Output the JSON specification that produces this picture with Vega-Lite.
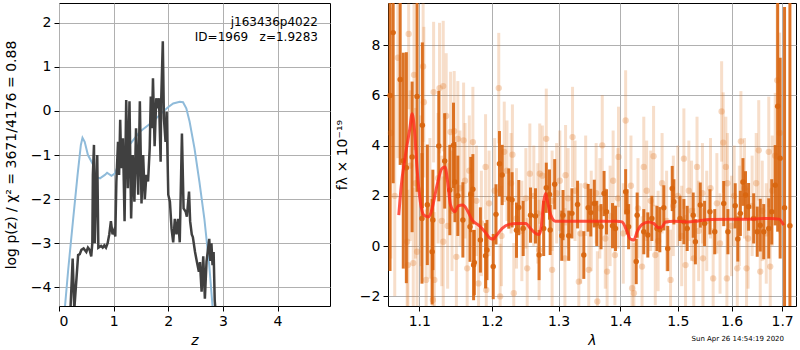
{
"$schema": "https://vega.github.io/schema/vega-lite/v6.json",
"padding": {"left": 3, "top": 1, "right": 0, "bottom": 0},
"bounds": "flush",
"spacing": 58,
"datasets": {
"blue": [{"z":0.11,"p":-4.43},{"z":0.17,"p":-3.58},{"z":0.26,"p":-2.44},{"z":0.34,"p":-1.45},{"z":0.40,"p":-0.77},{"z":0.43,"p":-0.61},{"z":0.47,"p":-0.70},{"z":0.53,"p":-1.0},{"z":0.63,"p":-1.23},{"z":0.67,"p":-1.49},{"z":0.75,"p":-1.53},{"z":0.84,"p":-1.45},{"z":0.88,"p":-1.40},{"z":0.96,"p":-1.47},{"z":1.02,"p":-1.42},{"z":1.11,"p":-1.15},{"z":1.29,"p":-0.77},{"z":1.48,"p":-0.47},{"z":1.72,"p":-0.24},{"z":1.90,"p":-0.02},{"z":1.99,"p":0.08},{"z":2.09,"p":0.17},{"z":2.21,"p":0.21},{"z":2.27,"p":0.20},{"z":2.33,"p":0.06},{"z":2.39,"p":-0.24},{"z":2.48,"p":-0.85},{"z":2.57,"p":-1.61},{"z":2.66,"p":-2.44},{"z":2.75,"p":-3.5},{"z":2.81,"p":-4.43}],
"black": [{"z":0.21,"p":-4.5},{"z":0.25,"p":-3.35},{"z":0.28,"p":-4.5},{"z":0.32,"p":-3.8},{"z":0.35,"p":-3.27},{"z":0.38,"p":-3.25},{"z":0.41,"p":-3.15},{"z":0.45,"p":-3.12},{"z":0.5,"p":-3.2},{"z":0.53,"p":-3.1},{"z":0.56,"p":-3.15},{"z":0.59,"p":-3.3},{"z":0.61,"p":-3.0},{"z":0.62,"p":-1.45},{"z":0.64,"p":-0.77},{"z":0.655,"p":-3.0},{"z":0.67,"p":-2.25},{"z":0.70,"p":-1.0},{"z":0.72,"p":-3.1},{"z":0.77,"p":-3.06},{"z":0.8,"p":-3.1},{"z":0.83,"p":-3.05},{"z":0.86,"p":-3.1},{"z":0.89,"p":-3.0},{"z":0.92,"p":-2.8},{"z":0.95,"p":-2.5},{"z":0.98,"p":-2.8},{"z":1.01,"p":-2.7},{"z":1.03,"p":-2.85},{"z":1.05,"p":-1.6},{"z":1.08,"p":-0.7},{"z":1.10,"p":-1.45},{"z":1.12,"p":-0.2},{"z":1.14,"p":-1.3},{"z":1.17,"p":-0.62},{"z":1.20,"p":-2.5},{"z":1.23,"p":0.25},{"z":1.26,"p":-1.75},{"z":1.29,"p":0.22},{"z":1.32,"p":-2.44},{"z":1.35,"p":-1.0},{"z":1.38,"p":-2.06},{"z":1.41,"p":-0.39},{"z":1.45,"p":-1.9},{"z":1.48,"p":0.22},{"z":1.51,"p":-2.1},{"z":1.54,"p":-1.0},{"z":1.57,"p":-2.0},{"z":1.60,"p":-1.45},{"z":1.63,"p":-1.6},{"z":1.66,"p":-0.85},{"z":1.68,"p":0.33},{"z":1.70,"p":-0.39},{"z":1.72,"p":0.74},{"z":1.75,"p":-0.8},{"z":1.78,"p":0.29},{"z":1.81,"p":0.06},{"z":1.83,"p":0.29},{"z":1.86,"p":-1.15},{"z":1.87,"p":0.22},{"z":1.90,"p":1.58},{"z":1.92,"p":-0.17},{"z":1.95,"p":-0.70},{"z":1.97,"p":-0.02},{"z":2.0,"p":-1.9},{"z":2.03,"p":-2.06},{"z":2.06,"p":-2.67},{"z":2.09,"p":-2.98},{"z":2.12,"p":-2.45},{"z":2.15,"p":-2.8},{"z":2.18,"p":-2.45},{"z":2.21,"p":-2.98},{"z":2.25,"p":-0.51},{"z":2.28,"p":-2.21},{"z":2.32,"p":-2.29},{"z":2.34,"p":-2.4},{"z":2.38,"p":-1.83},{"z":2.40,"p":-2.5},{"z":2.43,"p":-2.8},{"z":2.45,"p":-2.86},{"z":2.49,"p":-3.2},{"z":2.52,"p":-3.4},{"z":2.56,"p":-3.65},{"z":2.58,"p":-3.43},{"z":2.61,"p":-4.1},{"z":2.64,"p":-3.3},{"z":2.67,"p":-4.26},{"z":2.70,"p":-3.42},{"z":2.75,"p":-2.9},{"z":2.77,"p":-3.4},{"z":2.79,"p":-3.0},{"z":2.81,"p":-3.5},{"z":2.83,"p":-3.2},{"z":2.85,"p":-4.3},{"z":2.87,"p":-4.6}],
"ann": [{"z":4.74,"p":2.02,"t":"j163436p4022"},{"z":4.74,"p":1.68,"t":"ID=1969\u00a0\u00a0\u00a0z=1.9283"}],
"light": [[1.063,4.5,5],[1.068,2.0,4],[1.072,7.5,4],[1.086,8.45,3],[1.093,6.82,3],[1.105,7.15,3],[1.106,5.73,3],[1.119,6.13,2.8],[1.127,6.29,2.6],[1.132,6.37,2.6],[1.136,5.18,2.5],[1.142,4.54,2.4],[1.147,4.57,2.4],[1.152,4.27,2.3],[1.16,4.21,2.3],[1.173,4.14,2.2],[1.191,3.15,2.1],[1.21,6.29,2.2],[1.218,3.75,2],[1.23,3.64,2],[1.256,2.88,2],[1.271,2.88,2],[1.281,4.27,2],[1.311,2.82,2],[1.322,4.34,2],[1.37,4.01,2],[1.397,3.55,2],[1.409,5.0,2],[1.44,3.15,2],[1.457,3.58,2],[1.511,3.48,2],[1.535,3.15,2],[1.581,5.36,2],[1.584,4.12,2],[1.589,3.15,2],[1.618,4.17,2],[1.653,3.81,2],[1.673,3.75,2.2],[1.69,6.6,3],[1.084,0.17,3],[1.085,-0.76,3],[1.092,-0.68,3],[1.097,-0.23,3],[1.109,-1.35,2.8],[1.118,-2.15,2.8],[1.12,-1.35,2.7],[1.132,0.17,2.6],[1.15,-0.43,2.4],[1.165,-0.89,2.3],[1.181,-1.49,2.2],[1.192,-1.75,2.2],[1.212,-2.01,2.1],[1.232,-1.88,2],[1.252,-0.89,2],[1.27,-0.16,2],[1.29,-0.95,2],[1.31,-0.49,2],[1.332,-1.42,2],[1.348,-0.95,2],[1.362,-2.21,2],[1.378,-1.02,2],[1.391,-0.36,2],[1.42,-1.68,2],[1.423,-1.88,2],[1.437,-0.82,2],[1.46,-0.36,2],[1.487,-1.35,2],[1.514,-0.76,2],[1.529,-0.49,2],[1.546,-0.49,2],[1.565,-1.29,2],[1.591,-1.29,2],[1.611,-0.89,2],[1.629,-0.89,2],[1.656,-1.02,2],[1.676,-0.82,2.2],[1.088,3.2,3],[1.095,2.5,3],[1.102,2.2,3],[1.114,1.5,2.8],[1.125,2.7,2.6],[1.13,1.0,2.6],[1.138,0.8,2.5],[1.144,1.4,2.4],[1.155,2.3,2.3],[1.162,2.6,2.3],[1.168,3.0,2.2],[1.178,1.8,2.2],[1.185,0.9,2.1],[1.196,1.7,2.1],[1.204,2.2,2.1],[1.214,0.4,2.0],[1.222,3.0,2],[1.228,2.5,2],[1.236,1.1,2],[1.244,0.6,2],[1.25,1.9,2],[1.262,2.0,2],[1.268,1.3,2],[1.275,2.8,2],[1.29,1.8,2],[1.297,2.1,2],[1.302,2.6,2],[1.315,1.9,2],[1.326,2.2,2],[1.335,0.5,2],[1.343,2.4,2],[1.352,1.0,2],[1.36,2.1,2],[1.366,1.5,2],[1.375,0.3,2],[1.383,1.2,2],[1.388,2.6,2],[1.396,1.9,2],[1.405,0.5,2],[1.418,2.4,2],[1.43,1.5,2],[1.445,2.2,2],[1.452,1.8,2],[1.465,0.2,2],[1.472,2.5,2],[1.48,1.0,2],[1.492,1.6,2],[1.5,2.0,2],[1.507,0.4,2],[1.52,2.2,2],[1.525,1.4,2],[1.538,0.6,2],[1.545,2.1,2],[1.553,1.0,2],[1.56,2.3,2],[1.572,1.7,2],[1.578,0.1,2],[1.592,2.5,2],[1.6,0.8,2],[1.605,2.0,2],[1.615,1.2,2],[1.625,2.3,2],[1.632,0.3,2],[1.64,1.6,2],[1.648,2.5,2],[1.66,1.4,2],[1.668,0.5,2],[1.68,2.2,2.2],[1.686,3.6,2.5],[1.695,4.5,4]],
"dark": [[1.062,6.0,7],[1.066,8.5,6],[1.075,6.63,3.4],[1.079,3.4,4.3],[1.083,3.12,4.6],[1.0905,3.55,3.0],[1.097,5.96,3.8],[1.104,4.81,3.3],[1.1035,1.1,2.6],[1.1106,1.64,2.4],[1.117,-0.23,2.1],[1.118,1.04,2.0],[1.126,3.98,2.2],[1.134,3.39,1.9],[1.141,2.23,1.8],[1.146,4.01,1.7],[1.148,2.55,1.6],[1.152,2.0,1.6],[1.159,1.04,1.5],[1.17,2.05,1.5],[1.169,0.77,1.4],[1.173,2.26,1.4],[1.174,-0.76,1.4],[1.175,-0.66,1.3],[1.1836,0.24,1.3],[1.191,-0.39,1.3],[1.193,-0.16,1.2],[1.202,-0.82,1.3],[1.206,1.26,1.2],[1.211,3.28,1.3],[1.215,2.83,1.2],[1.2246,1.89,1.2],[1.2295,1.84,1.1],[1.236,0.63,1.1],[1.2394,1.53,1.1],[1.246,0.7,1.1],[1.257,1.23,1.1],[1.2645,1.2,1.1],[1.27,-0.36,1.0],[1.277,0.7,1.1],[1.281,2.32,1.0],[1.286,2.05,1.0],[1.287,0.64,1.0],[1.294,2.46,1.0],[1.305,0.41,1.0],[1.307,1.23,1.0],[1.316,0.41,1.0],[1.321,1.3,1.0],[1.33,1.65,0.95],[1.34,-0.36,0.95],[1.347,1.52,0.95],[1.3513,1.33,0.95],[1.357,1.69,0.95],[1.361,0.9,0.9],[1.368,0.77,0.9],[1.373,2.09,0.9],[1.377,1.36,0.9],[1.387,0.81,0.9],[1.392,0.7,0.9],[1.409,2.16,0.9],[1.4115,1.36,0.9],[1.414,0.77,0.9],[1.427,-0.62,0.9],[1.4286,1.23,0.9],[1.44,0.57,0.9],[1.447,0.44,0.9],[1.454,1.1,0.9],[1.463,0.7,0.9],[1.468,0.65,0.9],[1.475,1.52,0.9],[1.482,-0.1,0.9],[1.49,2.29,0.9],[1.493,1.76,0.9],[1.504,1.1,0.9],[1.511,0.97,0.9],[1.517,0.7,0.9],[1.528,1.23,0.9],[1.532,0.17,0.9],[1.541,1.63,0.9],[1.549,0.9,0.9],[1.559,1.36,0.9],[1.568,0.57,0.9],[1.585,1.69,0.9],[1.593,0.57,0.9],[1.607,1.6,0.9],[1.612,0.28,0.9],[1.617,1.3,0.9],[1.622,2.55,0.95],[1.627,2.03,0.95],[1.633,1.56,0.95],[1.643,1.1,1.0],[1.65,0.57,1.0],[1.656,0.83,1.05],[1.663,0.57,1.1],[1.673,0.7,1.2],[1.679,1.36,1.3],[1.686,2.42,1.6],[1.691,5.57,5],[1.696,3.5,4],[1.705,1.52,8],[1.716,0.81,12]],
"model": [{"l":1.0732,"f":1.23},{"l":1.076,"f":2.29},{"l":1.0818,"f":3.62},{"l":1.0875,"f":4.67},{"l":1.0905,"f":5.27},{"l":1.0935,"f":4.67},{"l":1.097,"f":3.08},{"l":1.1013,"f":1.76},{"l":1.106,"f":1.23},{"l":1.1125,"f":1.16},{"l":1.117,"f":1.49},{"l":1.1236,"f":2.42},{"l":1.13,"f":3.08},{"l":1.1345,"f":3.15},{"l":1.138,"f":2.55},{"l":1.142,"f":1.63},{"l":1.148,"f":1.36},{"l":1.1525,"f":1.6},{"l":1.159,"f":1.63},{"l":1.165,"f":1.43},{"l":1.172,"f":1.03},{"l":1.181,"f":0.83},{"l":1.19,"f":0.57},{"l":1.198,"f":0.3},{"l":1.202,"f":0.28},{"l":1.207,"f":0.44},{"l":1.215,"f":0.7},{"l":1.225,"f":0.86},{"l":1.237,"f":0.9},{"l":1.25,"f":0.9},{"l":1.257,"f":0.7},{"l":1.265,"f":0.5},{"l":1.27,"f":0.46},{"l":1.273,"f":0.7},{"l":1.277,"f":1.76},{"l":1.28,"f":2.09},{"l":1.283,"f":1.76},{"l":1.288,"f":1.23},{"l":1.295,"f":0.99},{"l":1.302,"f":0.99},{"l":1.394,"f":0.99},{"l":1.403,"f":0.96},{"l":1.4115,"f":0.57},{"l":1.417,"f":0.28},{"l":1.423,"f":0.24},{"l":1.4286,"f":0.57},{"l":1.437,"f":0.86},{"l":1.449,"f":0.96},{"l":1.457,"f":0.9},{"l":1.466,"f":0.73},{"l":1.472,"f":0.77},{"l":1.478,"f":0.96},{"l":1.493,"f":0.99},{"l":1.517,"f":0.96},{"l":1.535,"f":0.99},{"l":1.56,"f":1.06},{"l":1.591,"f":1.07},{"l":1.63,"f":1.07},{"l":1.676,"f":1.1},{"l":1.694,"f":1.07},{"l":1.703,"f":0.83}]
},
"hconcat": [
{
"width": 271, "height": 303,
"layer": [
{"data": {"name": "blue"}, "mark": {"type": "line", "color": "#8fbbda", "strokeWidth": 2, "clip": true},
 "encoding": {
  "x": {"field": "z", "type": "quantitative", "scale": {"domain": [0, 4.96], "nice": false, "zero": false}, "axis": {"values": [0,1,2,3,4], "title": "z", "titleFontStyle": "italic", "titlePadding": 5}},
  "y": {"field": "p", "type": "quantitative", "scale": {"domain": [-4.425, 2.45], "nice": false, "zero": false}, "axis": {"values": [-4,-3,-2,-1,0,1,2], "labelExpr": "replace(datum.label, '-', '\u2212')", "title": "log p(z) / \u03c7\u00b2 = 3671/4176 = 0.88", "minExtent": 33, "maxExtent": 33, "titlePadding": 8}}
 }},
{"data": {"name": "black"}, "mark": {"type": "line", "color": "#404040", "strokeWidth": 2.5, "clip": true},
 "encoding": {"x": {"field": "z", "type": "quantitative"}, "y": {"field": "p", "type": "quantitative"}}},
{"data": {"name": "ann"}, "mark": {"type": "text", "align": "right", "baseline": "middle", "fontSize": 12, "font": "DejaVu Sans", "color": "black"},
 "encoding": {"x": {"field": "z", "type": "quantitative"}, "y": {"field": "p", "type": "quantitative"}, "text": {"field": "t"}}}
]
},
{
"width": 408, "height": 303,
"title": {"text": "Sun Apr 26 14:54:19 2020", "orient": "bottom", "anchor": "end", "fontSize": 7, "font": "DejaVu Sans", "fontWeight": "normal", "color": "black", "offset": -12, "dx": -12},
"layer": [
{"data": {"name": "light"}, "mark": {"type": "errorbar", "ticks": false, "thickness": 3, "color": "#e07a2a", "opacity": 0.25},
 "encoding": {
  "x": {"field": "0", "type": "quantitative", "title": "\u03bb", "scale": {"type": "log", "domain": [1.0594, 1.7286], "nice": false, "zero": false}, "axis": {"values": [1.1,1.2,1.3,1.4,1.5,1.6,1.7], "format": ".1f", "titleFontStyle": "italic", "titlePadding": 5}},
  "y": {"field": "1", "type": "quantitative", "title": "f\u03bb \u00d7 10\u207b\u00b9\u2079", "scale": {"domain": [-2.39, 9.68], "nice": false, "zero": false, "clamp": true}, "axis": {"values": [-2,0,2,4,6,8], "labelExpr": "replace(datum.label, '-', '\u2212')", "minExtent": 31, "maxExtent": 31, "titlePadding": 8}},
  "yError": {"field": "2"}
 }},
{"data": {"name": "light"}, "mark": {"type": "circle", "size": 40, "color": "#e07a2a", "opacity": 0.3},
 "encoding": {"x": {"field": "0", "type": "quantitative", "title": "\u03bb"}, "y": {"field": "1", "type": "quantitative", "title": "f\u03bb \u00d7 10\u207b\u00b9\u2079"}}},
{"data": {"name": "dark"}, "mark": {"type": "errorbar", "ticks": false, "thickness": 3, "color": "#d8650f", "opacity": 0.9},
 "encoding": {"x": {"field": "0", "type": "quantitative", "title": "\u03bb"}, "y": {"field": "1", "type": "quantitative", "title": "f\u03bb \u00d7 10\u207b\u00b9\u2079"}, "yError": {"field": "2"}}},
{"data": {"name": "dark"}, "mark": {"type": "circle", "size": 30, "color": "#d8650f", "opacity": 0.95},
 "encoding": {"x": {"field": "0", "type": "quantitative", "title": "\u03bb"}, "y": {"field": "1", "type": "quantitative", "title": "f\u03bb \u00d7 10\u207b\u00b9\u2079"}}},
{"data": {"name": "model"}, "mark": {"type": "line", "color": "#ff2a1a", "strokeWidth": 3, "opacity": 0.8, "interpolate": "monotone"},
 "encoding": {"x": {"field": "l", "type": "quantitative", "title": "\u03bb"}, "y": {"field": "f", "type": "quantitative", "title": "f\u03bb \u00d7 10\u207b\u00b9\u2079"}}},
{"mark": {"type": "rule", "color": "black", "strokeWidth": 2, "strokeDash": [2, 3.3]},
 "encoding": {"y": {"datum": 0}}}
]
}
],
"config": {
 "view": {"stroke": "black", "strokeWidth": 1},
 "font": "DejaVu Sans",
 "axis": {"grid": true, "gridColor": "#b0b0b0", "gridWidth": 1, "domain": false, "tickColor": "black", "tickSize": 5, "labelPadding": 3, "labelFont": "DejaVu Sans", "labelFontSize": 14, "labelColor": "black", "titleFont": "DejaVu Sans", "titleFontSize": 14, "titleFontWeight": "normal", "titleColor": "black"}
}
}
